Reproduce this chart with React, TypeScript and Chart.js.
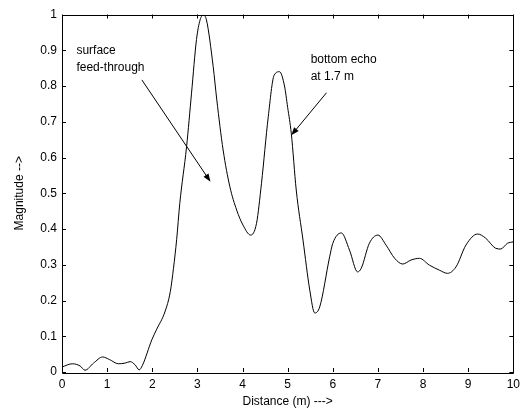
import React, { useEffect, useRef } from "react";
import { Chart, registerables } from "chart.js";

Chart.register(...registerables);

const distance = [
  0, 0.23, 0.4, 0.51, 0.7, 0.9, 1.05, 1.25, 1.4, 1.51, 1.62, 1.71, 1.78, 1.99, 2.1, 2.28, 2.4, 2.47,
  2.54, 2.61, 2.76, 2.87, 2.98, 3.06, 3.13, 3.2, 3.35, 3.43, 3.57, 3.72, 3.87, 4.01, 4.18, 4.31, 4.42,
  4.57, 4.7, 4.82, 4.93, 5.0, 5.08, 5.19, 5.34, 5.49, 5.6, 5.71, 5.93, 6.0, 6.19, 6.37, 6.55, 6.63,
  6.81, 7.0, 7.18, 7.37, 7.55, 7.73, 7.92, 8.14, 8.36, 8.54, 8.73, 8.95, 9.21, 9.39, 9.61, 9.72, 9.87,
  10,
];
const magnitude = [
  0.014, 0.023, 0.017, 0.005, 0.025, 0.042, 0.035, 0.023, 0.025, 0.029, 0.02, 0.006, 0.018, 0.09,
  0.12, 0.168, 0.225, 0.29, 0.37, 0.472, 0.63, 0.78, 0.93, 0.985, 0.998, 0.985, 0.854, 0.761, 0.621,
  0.518, 0.453, 0.411, 0.383, 0.416, 0.528, 0.714, 0.83, 0.84, 0.8, 0.74, 0.668, 0.509, 0.369, 0.229,
  0.165, 0.182, 0.322, 0.36, 0.389, 0.341, 0.28, 0.29, 0.36, 0.383, 0.355, 0.318, 0.302, 0.313, 0.318,
  0.299, 0.285, 0.276, 0.294, 0.355, 0.386, 0.374, 0.346, 0.344, 0.36, 0.364,
];
const xTicks = [0, 1, 2, 3, 4, 5, 6, 7, 8, 9, 10];
const yTicks = [0, 0.1, 0.2, 0.3, 0.4, 0.5, 0.6, 0.7, 0.8, 0.9, 1];

// annotations: text lines with anchor in data coords, arrow from -> to in data coords
const annotationTexts = [
  { lines: ["surface", "feed-through"], x: 0.32, y: 0.9 },
  { lines: ["bottom echo", "at 1.7 m"], x: 5.51, y: 0.875 },
];
const annotationArrows = [
  { from: [1.77, 0.817], to: [3.29, 0.532] },
  { from: [5.86, 0.781], to: [5.08, 0.662] },
];

const FONT = '"Liberation Sans", Arial, Helvetica, sans-serif';
const FS = 12;

const framePlugin = {
  id: "frame",
  afterDatasetsDraw(chart: any) {
    const { ctx, chartArea } = chart;
    const xs = chart.scales.x;
    const ys = chart.scales.y;
    const { left, right, top, bottom } = chartArea;
    ctx.save();
    ctx.strokeStyle = "#000";
    ctx.lineWidth = 1;
    ctx.beginPath();
    ctx.rect(Math.round(left) + 0.5, Math.round(top) + 0.5, Math.round(right - left), Math.round(bottom - top));
    ctx.stroke();
    const tl = 4;
    ctx.beginPath();
    xTicks.forEach((v) => {
      const px = Math.round(xs.getPixelForValue(v)) + 0.5;
      ctx.moveTo(px, bottom);
      ctx.lineTo(px, bottom - tl);
      ctx.moveTo(px, top);
      ctx.lineTo(px, top + tl);
    });
    yTicks.forEach((v) => {
      const py = Math.round(ys.getPixelForValue(v)) + 0.5;
      ctx.moveTo(left, py);
      ctx.lineTo(left + tl, py);
      ctx.moveTo(right, py);
      ctx.lineTo(right - tl, py);
    });
    ctx.stroke();

    // annotations
    ctx.fillStyle = "#000";
    ctx.font = `${FS}px ${FONT}`;
    ctx.textAlign = "left";
    ctx.textBaseline = "middle";
    annotationTexts.forEach((a) => {
      const px = xs.getPixelForValue(a.x);
      const py = ys.getPixelForValue(a.y);
      a.lines.forEach((l, i) => ctx.fillText(l, px, py + i * 17));
    });
    annotationArrows.forEach((a) => {
      const x1 = xs.getPixelForValue(a.from[0]);
      const y1 = ys.getPixelForValue(a.from[1]);
      const x2 = xs.getPixelForValue(a.to[0]);
      const y2 = ys.getPixelForValue(a.to[1]);
      const ang = Math.atan2(y2 - y1, x2 - x1);
      const hl = 8;
      const hw = 3;
      ctx.beginPath();
      ctx.moveTo(x1, y1);
      ctx.lineTo(x2 - Math.cos(ang) * hl * 0.8, y2 - Math.sin(ang) * hl * 0.8);
      ctx.stroke();
      ctx.beginPath();
      ctx.moveTo(x2, y2);
      ctx.lineTo(
        x2 - Math.cos(ang) * hl + Math.sin(ang) * hw,
        y2 - Math.sin(ang) * hl - Math.cos(ang) * hw
      );
      ctx.lineTo(
        x2 - Math.cos(ang) * hl - Math.sin(ang) * hw,
        y2 - Math.sin(ang) * hl + Math.cos(ang) * hw
      );
      ctx.closePath();
      ctx.fill();
    });
    ctx.restore();
  },
};

export default function App() {
  const ref = useRef<HTMLCanvasElement>(null);
  useEffect(() => {
    if (!ref.current) return;
    const chart = new Chart(ref.current, {
      type: "line",
      data: {
        datasets: [
          {
            data: distance.map((d, i) => ({ x: d, y: magnitude[i] })),
            borderColor: "#000",
            borderWidth: 1,
            pointRadius: 0,
            fill: false,
            cubicInterpolationMode: "monotone",
          },
        ],
      },
      options: {
        responsive: false,
        animation: false,
        events: [],
        layout: { padding: { left: 0, right: 11.5, top: 14.5, bottom: 0 } },
        plugins: { legend: { display: false }, tooltip: { enabled: false } },
        scales: {
          x: {
            type: "linear",
            min: 0,
            max: 10,
            afterFit: (s: any) => {
              s.height = 39;
            },
            afterBuildTicks: (s: any) => {
              s.ticks = xTicks.map((v) => ({ value: v }));
            },
            grid: { display: false, drawTicks: false },
            border: { display: false },
            ticks: {
              color: "#000",
              padding: 5,
              maxRotation: 0,
              font: { family: FONT, size: FS },
              callback: (v: any) => String(v),
            },
            title: {
              display: true,
              text: "Distance (m) --->",
              color: "#000",
              font: { family: FONT, size: FS },
              padding: { top: 0, bottom: 1.8 },
            },
          },
          y: {
            type: "linear",
            min: 0,
            max: 1,
            afterFit: (s: any) => {
              s.width = 62;
            },
            afterBuildTicks: (s: any) => {
              s.ticks = yTicks.map((v) => ({ value: v }));
            },
            grid: { display: false, drawTicks: false },
            border: { display: false },
            ticks: {
              color: "#000",
              padding: 5,
              font: { family: FONT, size: FS },
              callback: (v: any) => String(Math.round(v * 10) / 10),
            },
            title: {
              display: true,
              text: "Magnitude -->",
              color: "#000",
              font: { family: FONT, size: FS },
              padding: { top: 12.8, bottom: 0 },
            },
          },
        },
      },
      plugins: [framePlugin],
    } as any);
    return () => chart.destroy();
  }, []);
  return (
    <div style={{ position: "fixed", left: 0, top: 0, width: 525, height: 411, background: "#fff" }}>
      <canvas ref={ref} width={525} height={411} style={{ display: "block" }} />
    </div>
  );
}
